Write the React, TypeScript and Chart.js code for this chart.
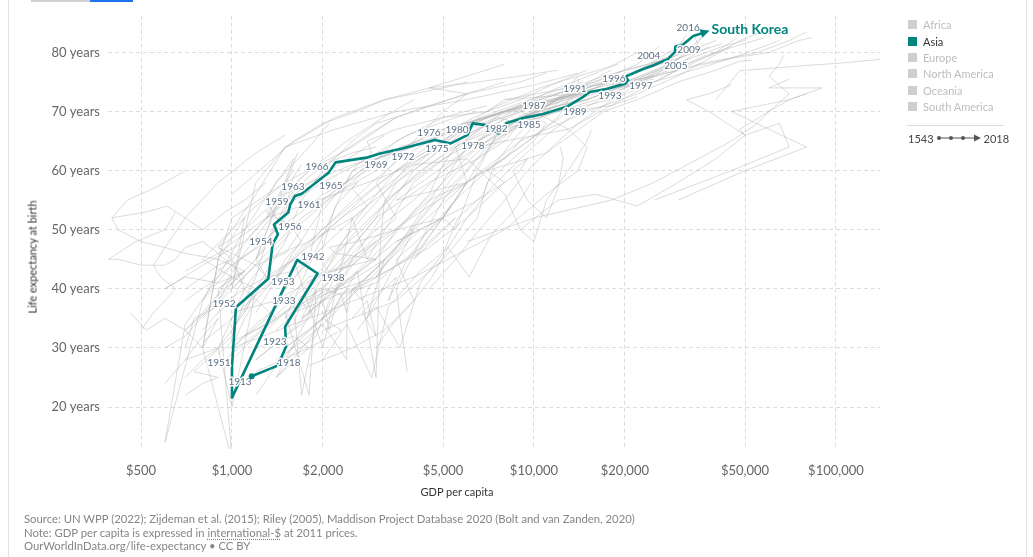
import React, { useEffect, useRef } from "react";
import { Chart, registerables } from "chart.js";

Chart.register(...registerables);

const TEAL = "#00847E";

// Axis ticks
const xTickValues = [500, 1000, 2000, 5000, 10000, 20000, 50000, 100000];
const yTickValues = [20, 30, 40, 50, 60, 70, 80];

// South Korea trajectory (GDP per capita, life expectancy)
const koreaGdp = [1162, 1417, 1510, 1500, 1922, 1645, 1000, 1000, 1031, 1319, 1364, 1420, 1377, 1536, 1560, 1617, 1701, 2084, 2205, 2793, 3092, 3690, 4700, 5300, 6016, 6266, 6970, 7656, 8077, 9218, 10730, 12830, 14560, 15320, 17400, 20000, 20500, 20100, 23000, 24800, 27800, 29300, 29400, 31100, 33700, 37300];
const koreaLife = [25.2, 27.0, 30.2, 33.6, 42.6, 44.9, 21.6, 26.9, 36.9, 41.7, 47.6, 49.2, 50.9, 52.9, 54.3, 55.7, 56.1, 59.6, 61.4, 62.2, 62.9, 63.8, 65.2, 64.6, 66.0, 68.0, 67.7, 66.3, 68.0, 68.9, 69.6, 70.8, 72.5, 73.3, 73.8, 74.7, 75.3, 75.9, 77.2, 77.8, 78.9, 80.1, 81.0, 81.3, 82.8, 83.5];

// Year annotations along the South Korea path
const yearLabels = ["1913", "1918", "1951", "1923", "1952", "1933", "1953", "1938", "1942", "1954", "1956", "1959", "1961", "1963", "1965", "1966", "1969", "1972", "1975", "1976", "1978", "1980", "1982", "1985", "1987", "1989", "1991", "1993", "1996", "1997", "2004", "2005", "2009", "2016"];
const yearLabelGdp = [1063, 1544, 906, 1388, 941, 1486, 1475, 2160, 1854, 1247, 1556, 1409, 1799, 1592, 2127, 1912, 2998, 3684, 4773, 4490, 6280, 5560, 7490, 9630, 10000, 13670, 13670, 17850, 18400, 22600, 24000, 29500, 32600, 32400];
const yearLabelLife = [24.3, 27.5, 27.5, 31.0, 37.55, 38.05, 41.2, 41.9, 45.4, 48.0, 50.5, 54.7, 54.3, 57.2, 57.5, 60.7, 61.0, 62.4, 63.7, 66.4, 64.2, 66.9, 67.1, 67.8, 70.9, 69.9, 73.8, 72.6, 75.6, 74.3, 79.5, 77.8, 80.5, 84.2];

const regionNames = ["Africa", "Asia", "Europe", "North America", "Oceania", "South America"];
const activeRegion = "Asia";
const yearStart = "1543";
const yearEnd = "2018";

// Background countries (estimated from the gray cloud): [GDP, life expectancy]
const europePaths: number[][][] = [
  [[1700, 38], [2000, 40], [2300, 39], [3000, 41], [3500, 44], [4200, 47], [5000, 52], [5500, 50], [6500, 60], [7500, 66], [9000, 69], [12000, 71], [15000, 72], [19000, 74], [24000, 76], [30000, 78], [35000, 80], [38000, 81]],
  [[1400, 33], [1700, 37], [2200, 40], [2600, 42], [3200, 45], [2800, 35], [4000, 50], [3000, 42], [6000, 64], [10000, 70], [15000, 72], [21000, 75], [28000, 78], [33000, 80], [36000, 82.5]],
  [[1100, 36], [1300, 42], [1600, 45], [2300, 52], [3000, 56], [4200, 62], [6000, 68], [9000, 71], [14000, 74], [20000, 77], [28000, 79], [40000, 82]],
  [[1000, 36], [1400, 38], [1900, 42], [2500, 44], [3000, 48], [1500, 35], [2500, 60], [5000, 67], [10000, 71], [16000, 74], [25000, 76], [30000, 79], [35000, 82], [38000, 84]],
  [[1500, 30], [1800, 33], [2200, 37], [2600, 43], [3000, 25], [3100, 48], [3200, 55], [5000, 62], [9000, 69], [14000, 72], [20000, 75], [28000, 78], [35000, 81], [34000, 83]],
  [[1400, 28], [1700, 31], [2000, 34], [2400, 28], [2400, 40], [2000, 44], [2500, 50], [4000, 62], [7000, 69], [12000, 73], [17000, 76], [24000, 78], [30000, 81], [32000, 83]],
  [[1300, 45], [1800, 48], [2500, 52], [3500, 58], [5000, 65], [8000, 72], [13000, 74], [20000, 75], [30000, 77], [45000, 79], [60000, 80], [75000, 82], [83000, 82.5]],
  [[2000, 42], [3000, 48], [4500, 54], [6000, 58], [9000, 65], [15000, 70], [22000, 73], [30000, 76], [38000, 79], [48000, 82], [57000, 83.5]],
  [[1600, 36], [2000, 38], [2800, 41], [3800, 45], [4500, 48], [5500, 52], [4000, 45], [6000, 58], [3500, 55], [7000, 66], [12000, 70], [18000, 72], [25000, 75], [35000, 79], [45000, 81]],
  [[2500, 35], [2800, 38], [3000, 32], [2700, 36], [3200, 40], [3500, 42], [3300, 38], [3800, 45], [4500, 50], [5500, 55], [8000, 68], [13000, 73], [20000, 76], [30000, 79], [42000, 81.5]],
  [[1600, 38], [1700, 22], [2000, 40], [2500, 47], [3000, 52], [3500, 58], [4500, 62], [6000, 68], [9000, 71], [14000, 73], [25000, 75], [45000, 79], [65000, 82]],
  [[900, 30], [1000, 20], [1200, 40], [1600, 45], [2000, 30], [2500, 52], [2800, 45], [4000, 58], [6000, 65], [10000, 70], [16000, 74], [25000, 78], [35000, 81]],
  [[1200, 30], [1400, 31], [1600, 32], [1800, 30], [1400, 25], [2000, 40], [2500, 45], [4000, 60], [6000, 67], [7500, 69], [9000, 68], [6500, 64], [8000, 65], [13000, 67], [18000, 71], [22000, 72.5]],
  [[1600, 34], [1700, 38], [1800, 36], [1900, 40], [1700, 35], [2000, 38], [2100, 33], [2200, 37], [2300, 39], [2400, 36], [2500, 40], [2700, 38], [2900, 41]],
  [[1300, 33], [1500, 36], [1800, 22], [1900, 40], [2200, 46], [2600, 52], [3500, 60], [6000, 66], [10000, 72], [16000, 75], [22000, 78], [26000, 81]],
  [[3800, 26], [3500, 40], [4200, 48], [5000, 55], [6500, 62], [9000, 68], [12000, 70], [16000, 72], [20000, 74], [26000, 77], [29000, 79]],
  [[5000, 60], [6500, 64], [8500, 68], [11000, 71], [15000, 73], [20000, 75], [26000, 77], [33000, 79], [42000, 81], [50000, 82]],
  [[8000, 66], [10000, 69], [13000, 71], [17000, 73], [22000, 75], [28000, 77], [36000, 79], [46000, 81], [58000, 82.5]],
  [[3000, 30], [3400, 34], [4000, 38], [4600, 42], [5200, 47], [6000, 52], [7200, 57], [9000, 62], [11000, 66], [14000, 70], [18000, 73], [25000, 76]],
  [[2500, 40], [3100, 44], [3800, 49], [4600, 54], [5700, 59], [7000, 64], [9000, 68], [12000, 71], [16000, 74], [22000, 77], [30000, 80]],
];

const americasPaths: number[][][] = [
  [[2000, 39], [3000, 42], [4500, 47], [6000, 52], [8000, 58], [7000, 60], [11000, 63], [15000, 68], [17000, 70], [22000, 72], [30000, 75], [40000, 77], [48000, 78.5], [53000, 78.7]],
  [[3500, 48], [5000, 52], [5500, 55], [7000, 60], [9000, 64], [13000, 70], [18000, 71], [23000, 74], [30000, 77], [40000, 80], [47000, 82.5]],
  [[2000, 33], [3500, 38], [5000, 45], [6500, 52], [7000, 58], [8500, 62], [10000, 65], [11000, 68], [9000, 70], [12000, 72], [16000, 74], [18000, 76.5]],
  [[1800, 27], [2500, 30], [3200, 33], [4000, 38], [3500, 45], [5000, 52], [6000, 58], [5500, 64], [8000, 70], [12000, 74], [17000, 77], [22000, 80]],
  [[900, 29], [1000, 31], [1300, 34], [1700, 38], [2300, 45], [3000, 52], [4500, 58], [6500, 62], [8000, 65], [9000, 68], [11000, 71], [14000, 74], [14000, 75.5]],
  [[1200, 26], [1800, 30], [2300, 33], [2000, 35], [2800, 42], [4000, 50], [6000, 58], [9000, 64], [12000, 69], [13000, 72], [15000, 74], [16500, 75]],
  [[1000, 30], [1800, 35], [4000, 42], [8000, 50], [11000, 56], [14000, 60], [15000, 64], [13000, 67], [10000, 70], [12000, 72], [14000, 73], [8000, 72]],
  [[1200, 28], [1500, 32], [1900, 37], [2500, 42], [3000, 45], [3500, 50], [4500, 56], [5000, 61], [5500, 64], [7000, 68], [9000, 70], [11000, 72]],
  [[1000, 30], [1100, 35], [1200, 38], [1400, 42], [1500, 45], [1700, 48], [1600, 50], [1400, 52], [1300, 55], [1400, 58], [1500, 60], [1600, 62], [1200, 45], [1650, 63]],
  [[1500, 30], [2000, 35], [2500, 45], [3500, 52], [3000, 58], [4000, 65], [5000, 70], [6000, 73], [4500, 74], [6000, 76], [8000, 78]],
  [[2600, 33], [3000, 37], [3600, 30], [4200, 41], [5000, 46], [5600, 52], [6800, 56], [7400, 61], [8800, 66], [10500, 70], [12500, 73], [14000, 76]],
  [[1700, 35], [2100, 39], [2600, 43], [3300, 48], [4000, 53], [5000, 58], [6200, 63], [8000, 67], [11000, 71], [15000, 74], [20000, 76], [27000, 79]],
  [[1800, 47], [2300, 52], [2800, 56], [3500, 60], [4300, 63], [5300, 66], [6700, 69], [8500, 71], [11000, 73], [14500, 75]],
  [[4500, 40], [5500, 45], [6600, 50], [8000, 55], [9500, 60], [11500, 64], [14000, 68], [17000, 71], [21000, 74]],
];

const asiaPaths: number[][][] = [
  [[600, 24], [700, 28], [800, 32], [900, 35], [800, 30], [900, 45], [1100, 52], [1000, 40], [1200, 58], [1500, 64], [2200, 67], [3500, 70], [6000, 72], [10000, 74.5], [14000, 76.5]],
  [[700, 22], [800, 24], [900, 25], [750, 26], [1000, 32], [1100, 38], [1200, 42], [1300, 48], [1500, 54], [2000, 58], [2800, 62], [3800, 66], [5500, 69], [6500, 70]],
  [[1000, 28], [1200, 32], [1400, 35], [1100, 40], [1300, 45], [1600, 50], [2200, 56], [3000, 60], [3600, 64], [5000, 66], [7000, 69], [10000, 71.5]],
  [[800, 35], [1000, 40], [1300, 46], [1700, 52], [2500, 58], [3500, 65], [5000, 69], [7000, 70], [9000, 72], [12000, 75], [15000, 77]],
  [[1200, 36], [1500, 44], [1900, 52], [2300, 57], [2600, 61], [2900, 63], [2800, 65], [3500, 67], [5000, 69], [7000, 71]],
  [[800, 30], [700, 33], [900, 38], [1000, 42], [800, 45], [1000, 50], [1200, 56], [1500, 64], [2200, 69], [3200, 72], [5000, 74], [6000, 75]],
  [[1000, 33], [1200, 40], [1500, 48], [1700, 55], [2000, 60], [2500, 65], [3000, 68], [4000, 70], [6000, 73], [9000, 75], [11000, 76.5]],
  [[1000, 30], [1300, 35], [1500, 40], [1800, 45], [2000, 55], [3000, 62], [5000, 67], [8000, 70], [12000, 72], [18000, 74], [25000, 75.5]],
  [[1500, 28], [1900, 32], [2100, 38], [2500, 44], [3500, 50], [4500, 55], [6000, 58], [8000, 62], [9000, 65], [11000, 70], [14000, 74], [18000, 77]],
  [[900, 40], [1000, 42], [1100, 43], [900, 40], [1000, 11], [800, 30], [900, 45], [1000, 52], [1500, 58], [2500, 64], [3500, 69]],
  [[700, 25], [800, 28], [900, 30], [1000, 35], [1100, 40], [1000, 45], [900, 47], [1100, 50], [1400, 55], [1800, 60], [2400, 65], [3400, 70], [4000, 72]],
  [[2000, 55], [3000, 62], [5000, 66], [8000, 70], [14000, 73], [22000, 75], [35000, 78], [55000, 80], [70000, 82], [80000, 83.5]],
  [[1000, 56], [1300, 61], [1600, 65], [2000, 68], [2600, 70], [3200, 72], [4500, 74], [6500, 75], [9000, 76], [12000, 77]],
  [[9000, 50], [12000, 55], [16000, 56], [22000, 54], [30000, 58], [40000, 62], [50000, 66], [38000, 70], [32000, 72], [38000, 73], [45000, 74.5]],
  [[25000, 55], [45000, 60], [70000, 64], [65000, 68], [50000, 66], [48000, 67], [60000, 70], [70000, 73], [60000, 76], [65000, 78], [67000, 79.5]],
  [[30000, 55], [50000, 60], [80000, 64], [60000, 67], [45000, 70], [70000, 72], [90000, 74], [60000, 74], [70000, 75.5]],
  [[40000, 72], [48000, 76.9], [60000, 77.3], [80000, 77.8], [110000, 78.3], [150000, 79]],
  [[6000, 48], [10000, 52], [18000, 55], [25000, 58], [35000, 62], [45000, 65], [55000, 68], [60000, 70], [70000, 72], [80000, 73]],
  [[1100, 32], [1300, 34], [1500, 37], [1800, 41], [2200, 46], [2700, 50], [3300, 55], [4200, 60], [5500, 64], [7500, 68], [10000, 71], [13000, 73]],
  [[1300, 40], [1600, 45], [1900, 49], [2400, 54], [2900, 58], [3600, 62], [4500, 65], [5800, 68], [7600, 71], [10500, 74], [14000, 76], [19000, 78]],
  [[1000, 45], [1200, 50], [1500, 55], [1800, 59], [2300, 63], [2800, 66], [3500, 69], [4500, 71], [6000, 73], [8000, 75]],
  [[1400, 25], [1650, 29], [1900, 33], [2300, 37], [2700, 41], [3200, 45], [3900, 50], [4700, 55], [5600, 60], [6800, 64], [8500, 67]],
];

const africaPaths: number[][][] = [
  [[1000, 30], [1200, 34], [1500, 38], [1800, 42], [2500, 44], [3000, 45], [2200, 46], [2100, 47], [2600, 48], [3500, 50], [5000, 52], [5300, 54]],
  [[500, 33], [550, 36], [600, 38], [650, 40], [580, 42], [550, 44], [600, 47], [700, 52], [900, 58], [1200, 63], [1500, 66]],
  [[800, 38], [1000, 44], [1300, 48], [1500, 52], [1600, 56], [1500, 58], [1400, 55], [1300, 52], [1500, 56], [1800, 60], [2500, 63], [3000, 64]],
  [[1500, 36], [2500, 42], [3500, 48], [5000, 52], [6500, 55], [8000, 58], [9000, 60], [9500, 62], [8500, 60], [9500, 55], [11000, 52], [12000, 57], [12500, 62], [12200, 64]],
  [[700, 43], [900, 46], [1300, 52], [2500, 57], [4000, 61], [6000, 62], [8000, 56], [9000, 50], [10000, 48], [11000, 55], [13000, 60], [15000, 65], [15500, 67]],
  [[1500, 40], [1900, 46], [2300, 50], [2800, 54], [2500, 57], [2600, 58], [2200, 54], [2000, 47], [1600, 43], [1300, 42], [1200, 45], [1500, 53], [1600, 59], [1700, 61]],
  [[900, 38], [1000, 41], [1100, 43], [900, 45], [700, 46], [600, 47], [500, 48], [420, 50], [400, 52], [450, 55], [550, 57], [650, 59], [700, 60]],
  [[800, 33], [900, 36], [1000, 38], [1100, 42], [900, 46], [800, 48], [700, 47], [650, 45], [600, 44], [550, 44], [500, 44], [420, 45], [390, 45], [480, 48], [600, 50], [650, 53]],
  [[700, 28], [900, 30], [1000, 33], [1100, 36], [1200, 40], [1000, 42], [900, 41], [700, 42], [600, 40], [800, 44], [1100, 48], [1300, 52], [1500, 55]],
  [[1000, 40], [1200, 44], [1500, 46], [1700, 50], [1400, 52], [1300, 53], [1500, 56], [1800, 58], [2500, 61], [3500, 63], [4000, 64]],
  [[1200, 28], [1500, 32], [1800, 35], [2000, 38], [2200, 42], [2500, 46], [3000, 50], [4000, 55], [5000, 60], [6500, 65], [8000, 69], [10000, 71.5]],
  [[700, 40], [800, 42], [900, 44], [1000, 45], [900, 43], [800, 38], [600, 14], [700, 34], [900, 42], [1100, 50], [1400, 58], [1800, 64], [2100, 68]],
  [[700, 30], [750, 35], [900, 37], [1100, 40], [1300, 42], [1200, 44], [1000, 46], [900, 47], [1000, 50], [1200, 54], [1500, 58], [1600, 60]],
  [[460, 36], [520, 33], [600, 35], [700, 33], [800, 36], [900, 39], [1000, 41], [1150, 44], [1300, 47]],
  [[400, 52], [520, 53], [610, 54], [700, 52], [800, 50], [950, 53], [1100, 55], [1300, 58]],
  [[2000, 28], [2400, 34], [2900, 25], [3300, 37], [4200, 43], [5200, 47], [6100, 42], [7200, 49], [8500, 53], [9800, 58]],
  [[900, 27], [1050, 30], [1250, 33], [1500, 36], [1800, 40], [2100, 44], [2500, 49], [3000, 53], [3800, 58], [4800, 62], [6000, 66], [7500, 69]],
  [[800, 31], [950, 34], [1150, 38], [1400, 42], [1700, 47], [2100, 51], [2600, 55], [3100, 58], [3700, 61], [4400, 64], [5200, 67]],
  [[600, 30], [700, 32], [820, 36], [950, 41], [1100, 46], [1250, 50], [1450, 54], [1700, 57], [2100, 60], [2600, 63], [3200, 66]],
  [[700, 38], [850, 41], [1000, 44], [1200, 47], [1400, 50], [1700, 53], [2000, 56], [2400, 58], [2800, 60]],
  [[1200, 22], [1400, 27], [1650, 31], [2000, 35], [2400, 38], [2900, 42], [3500, 46], [4200, 50]],
];

function toPoints(path: number[][]) {
  return path.map((p) => ({ x: p[0], y: p[1] }));
}

const overlayPlugin = {
  id: "overlay",
  afterDatasetsDraw(chart: any) {
    const { ctx } = chart;
    const xs = chart.scales.x;
    const ys = chart.scales.y;
    const px = (v: number) => xs.getPixelForValue(v);
    const py = (v: number) => ys.getPixelForValue(v);
    ctx.save();

    // year labels with white halo
    ctx.font = "10px Lato";
    ctx.textAlign = "center";
    ctx.textBaseline = "middle";
    ctx.lineJoin = "round";
    for (let i = 0; i < yearLabels.length; i++) {
      const lx = px(yearLabelGdp[i]);
      const ly = py(yearLabelLife[i]);
      ctx.lineWidth = 3;
      ctx.strokeStyle = "rgba(255,255,255,0.95)";
      ctx.strokeText(yearLabels[i], lx, ly);
      ctx.fillStyle = "#5c7083";
      ctx.fillText(yearLabels[i], lx, ly);
    }

    // start dot
    ctx.fillStyle = TEAL;
    ctx.beginPath();
    ctx.arc(px(koreaGdp[0]), py(koreaLife[0]), 3, 0, Math.PI * 2);
    ctx.fill();

    // arrow head at the end
    const n = koreaGdp.length;
    const x1 = px(koreaGdp[n - 2]);
    const y1 = py(koreaLife[n - 2]);
    const x2 = px(koreaGdp[n - 1]);
    const y2 = py(koreaLife[n - 1]);
    const ang = Math.atan2(y2 - y1, x2 - x1);
    const tipX = x2 + Math.cos(ang) * 3;
    const tipY = y2 + Math.sin(ang) * 3;
    const L = 9;
    const W = 4.5;
    const bx = tipX - Math.cos(ang) * L;
    const by = tipY - Math.sin(ang) * L;
    ctx.beginPath();
    ctx.moveTo(tipX, tipY);
    ctx.lineTo(bx + Math.sin(ang) * W, by - Math.cos(ang) * W);
    ctx.lineTo(bx - Math.sin(ang) * W, by + Math.cos(ang) * W);
    ctx.closePath();
    ctx.fill();

    // series label
    ctx.font = "bold 14px Lato";
    ctx.textAlign = "left";
    ctx.textBaseline = "middle";
    ctx.fillStyle = TEAL;
    ctx.fillText("South Korea", tipX + 2, tipY - 1);

    ctx.restore();
  },
};

export default function App() {
  const canvasRef = useRef<HTMLCanvasElement | null>(null);

  useEffect(() => {
    const canvas = canvasRef.current;
    if (!canvas) return;

    const grayStyle = {
      borderColor: "rgba(175,175,175,0.45)",
      borderWidth: 1,
      pointRadius: 0,
      order: 2,
      tension: 0,
    };
    const allGray = [...europePaths, ...americasPaths, ...asiaPaths, ...africaPaths];
    const grayDatasets = allGray.map((p) => ({ ...grayStyle, data: toPoints(p) }));

    const korea = {
      data: koreaGdp.map((g, i) => ({ x: g, y: koreaLife[i] })),
      borderColor: TEAL,
      borderWidth: 2.6,
      pointRadius: 0,
      order: 0,
      tension: 0,
      borderJoinStyle: "round" as const,
    };

    const chart = new Chart(canvas, {
      type: "line",
      data: { datasets: [korea, ...grayDatasets] as any },
      options: {
        responsive: false,
        animation: false,
        layout: { padding: { left: 0, right: 153, top: 12, bottom: 78 } },
        plugins: { legend: { display: false }, tooltip: { enabled: false } },
        elements: { point: { radius: 0 } },
        scales: {
          x: {
            type: "logarithmic",
            min: 388.6,
            max: 139900,
            afterBuildTicks: (scale: any) => {
              scale.ticks = xTickValues.map((v) => ({ value: v }));
            },
            afterFit: (scale: any) => {
              scale.height = 30;
            },
            ticks: {
              padding: 14,
              color: "#666",
              font: { family: "Lato", size: 13 },
              autoSkip: false,
              maxRotation: 0,
              callback: (v: any) => "$" + Number(v).toLocaleString("en-US"),
            },
            grid: { color: "#dcdcdc", drawTicks: false },
            border: { display: false, dash: [4, 3] },
          },
          y: {
            type: "linear",
            min: 12.9,
            max: 86.2,
            afterBuildTicks: (scale: any) => {
              scale.ticks = yTickValues.map((v) => ({ value: v }));
            },
            afterFit: (scale: any) => {
              scale.width = 108;
            },
            ticks: {
              padding: 8,
              color: "#666",
              font: { family: "Lato", size: 13 },
              callback: (v: any) => v + " years",
            },
            grid: { color: "#dcdcdc", drawTicks: false },
            border: { display: false, dash: [4, 3] },
          },
        },
      },
      plugins: [overlayPlugin],
    });

    return () => chart.destroy();
  }, []);

  const legendTop = [24, 41, 57, 73, 90, 106];

  return (
    <div style={{ position: "absolute", left: 0, top: 0, width: 1033, height: 557, background: "#fff", fontFamily: "Lato, sans-serif", overflow: "hidden" }}>
      <div style={{ position: "absolute", left: 8, top: 0, width: 1, height: 557, background: "#e3e3e3" }} />
      <div style={{ position: "absolute", left: 1026, top: 0, width: 1, height: 557, background: "#e3e3e3" }} />
      <div style={{ position: "absolute", left: 31, top: 0, width: 59, height: 2, background: "#d0d0d0" }} />
      <div style={{ position: "absolute", left: 90, top: 0, width: 43, height: 2, background: "#1a73e8" }} />

      <canvas ref={canvasRef} width={1033} height={557} style={{ position: "absolute", left: 0, top: 0, width: 1033, height: 557 }} />

      <div style={{ position: "absolute", left: 32, top: 257, transform: "translate(-50%, -50%) rotate(-90deg)", whiteSpace: "nowrap", fontSize: 11, color: "#333" }}>
        Life expectancy at birth
      </div>
      <div style={{ position: "absolute", left: 457, top: 491, transform: "translate(-50%, -50%)", whiteSpace: "nowrap", fontSize: 11, color: "#333" }}>
        GDP per capita
      </div>

      {regionNames.map((name, i) => {
        const active = name === activeRegion;
        return (
          <div key={name} style={{ position: "absolute", left: 908, top: legendTop[i] - 7, height: 14, display: "flex", alignItems: "center", whiteSpace: "nowrap" }}>
            <span style={{ display: "inline-block", width: 9, height: 9, background: active ? TEAL : "#cfcfcf", marginRight: 6 }} />
            <span style={{ fontSize: 11, color: active ? "#333" : "#bdbdbd" }}>{name}</span>
          </div>
        );
      })}
      <div style={{ position: "absolute", left: 907, top: 125, width: 97, height: 1, background: "#dcdcdc" }} />
      <div style={{ position: "absolute", left: 908, top: 131, height: 14, display: "flex", alignItems: "center", whiteSpace: "nowrap", fontSize: 11, color: "#444" }}>
        <span>{yearStart}</span>
        <svg width="46" height="10" style={{ margin: "0 2px" }}>
          <line x1="2" y1="5" x2="40" y2="5" stroke="#555" strokeWidth="1" />
          <circle cx="3" cy="5" r="2" fill="#555" />
          <circle cx="15" cy="5" r="2" fill="#555" />
          <circle cx="27" cy="5" r="2" fill="#555" />
          <polygon points="38,1.5 45,5 38,8.5" fill="#555" />
        </svg>
        <span>{yearEnd}</span>
      </div>

      <div style={{ position: "absolute", left: 24, top: 512, fontSize: 11.3, lineHeight: "13.5px", color: "#858585", whiteSpace: "nowrap" }}>
        <div>Source: UN WPP (2022); Zijdeman et al. (2015); Riley (2005), Maddison Project Database 2020 (Bolt and van Zanden, 2020)</div>
        <div>
          Note: GDP per capita is expressed in{" "}
          <span style={{ textDecoration: "underline dotted", textUnderlineOffset: 2 }}>international-$</span> at 2011 prices.
        </div>
        <div>OurWorldInData.org/life-expectancy • CC BY</div>
      </div>
    </div>
  );
}
